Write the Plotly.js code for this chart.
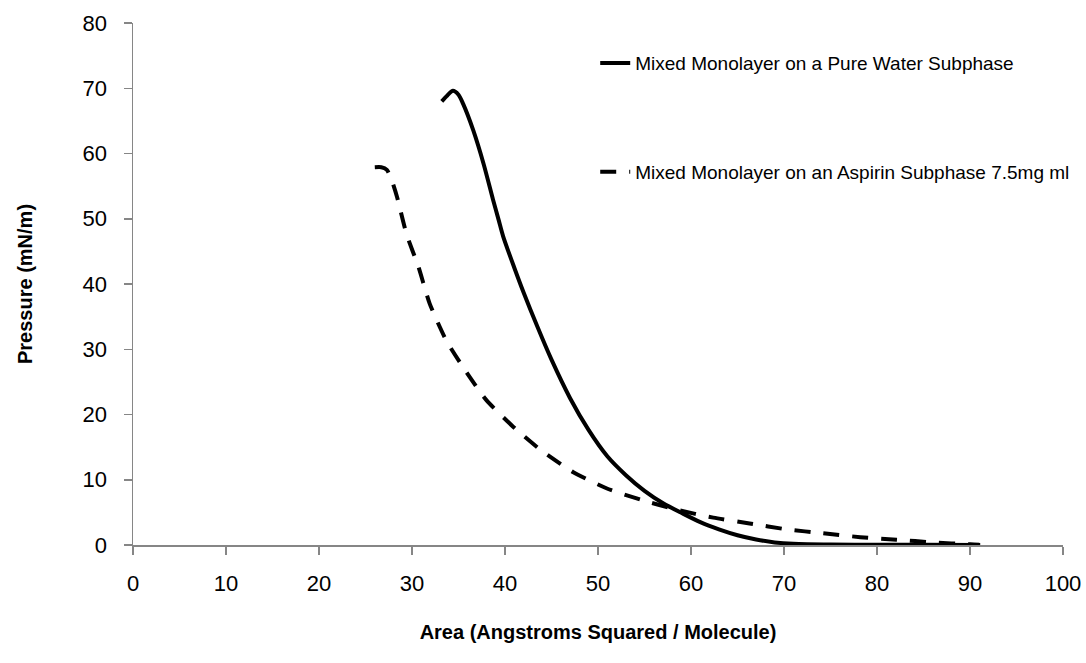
<!DOCTYPE html>
<html>
<head>
<meta charset="utf-8">
<script src="https://cdn.plot.ly/plotly-3.0.1.min.js"></script>
<style>
  html, body { margin: 0; padding: 0; background: #ffffff; }
  #chart { width: 1086px; height: 663px; }
</style>
</head>
<body>
<div id="chart"></div>
<script>
// Mixed monolayer on a pure water subphase
const waterArea = [33.2, 33.8, 34.4, 35.0, 35.5, 36.6, 37.7, 38.7, 39.3, 39.8, 41.0, 42.0, 43.5, 45.0, 47.0, 49.0, 51.0, 53.0, 55.0, 57.0, 59.0, 61.0, 63.0, 65.0, 67.0, 69.0, 71.0, 75.0, 80.0, 85.0, 91.1];
const waterPressure = [68.0, 68.9, 69.6, 69.0, 67.6, 63.5, 58.4, 53.0, 49.9, 47.3, 42.5, 38.7, 33.4, 28.4, 22.5, 17.6, 13.6, 10.7, 8.3, 6.4, 4.9, 3.5, 2.4, 1.5, 0.85, 0.4, 0.18, 0.06, 0.03, 0.02, 0.0];

// Mixed monolayer on an aspirin subphase
const aspirinArea = [26.0, 26.7, 27.3, 27.8, 28.4, 29.4, 30.7, 31.9, 33.7, 35.7, 38.0, 40.9, 43.9, 47.3, 50.9, 54.7, 58.5, 62.4, 66.3, 70.3, 74.2, 78.2, 82.1, 86.1, 90.0, 91.0];
const aspirinPressure = [57.9, 57.9, 57.5, 56.0, 53.3, 47.7, 42.6, 37.0, 31.3, 26.8, 22.2, 18.1, 14.5, 11.2, 8.7, 6.9, 5.4, 4.2, 3.3, 2.4, 1.8, 1.2, 0.8, 0.4, 0.1, 0.05];

const seriesNames = ["Mixed Monolayer on a Pure Water Subphase", "Mixed Monolayer on an Aspirin Subphase 7.5mg ml"];
const xTicks = [0, 10, 20, 30, 40, 50, 60, 70, 80, 90, 100];
const yTicks = [0, 10, 20, 30, 40, 50, 60, 70, 80];

const axisColor = "#868686";
const fontFamily = "'Liberation Sans', Arial, sans-serif";

const traces = [
  {
    x: waterArea, y: waterPressure, type: "scatter", mode: "lines",
    name: seriesNames[0], legendgroup: "a",
    line: { color: "#000000", width: 4, shape: "spline", smoothing: 0.8 }
  },
  {
    x: aspirinArea, y: aspirinPressure, type: "scatter", mode: "lines",
    name: seriesNames[1], legendgroup: "b",
    line: { color: "#000000", width: 4, dash: "16px,13px", shape: "spline", smoothing: 0.6 }
  }
];

const layout = {
  width: 1086, height: 663,
  paper_bgcolor: "#ffffff", plot_bgcolor: "#ffffff",
  margin: { l: 133, r: 23, t: 23, b: 118, autoexpand: false },
  font: { family: fontFamily, color: "#000000", size: 22 },
  showlegend: true,
  legend: {
    x: 0.497, xanchor: "left", y: 0.9595, yanchor: "top",
    bgcolor: "rgba(0,0,0,0)", borderwidth: 0,
    font: { family: fontFamily, size: 19, color: "#000000" },
    tracegroupgap: 81, traceorder: "grouped"
  },
  xaxis: {
    range: [0, 100], tickvals: xTicks, ticktext: xTicks.map(String),
    showgrid: false, zeroline: false,
    showline: true, linecolor: axisColor, linewidth: 1.5,
    ticks: "outside", ticklen: 8, tickcolor: axisColor, tickwidth: 1.5,
    tickfont: { family: fontFamily, size: 22, color: "#000000" },
    ticklabelstandoff: 10,
    title: { text: "Area (Angstroms Squared / Molecule)", standoff: 30,
             font: { family: fontFamily, size: 20, color: "#000000", weight: "bold" } }
  },
  yaxis: {
    range: [0, 80], tickvals: yTicks, ticktext: yTicks.map(String),
    showgrid: false, zeroline: false,
    showline: true, linecolor: axisColor, linewidth: 1.5,
    ticks: "outside", ticklen: 8, tickcolor: axisColor, tickwidth: 1.5,
    tickfont: { family: fontFamily, size: 22, color: "#000000" },
    ticklabelstandoff: 12,
    title: { text: "Pressure (mN/m)", standoff: 44,
             font: { family: fontFamily, size: 20, color: "#000000", weight: "bold" } }
  }
};

Plotly.newPlot("chart", traces, layout, { displayModeBar: false, staticPlot: true });
</script>
</body>
</html>
